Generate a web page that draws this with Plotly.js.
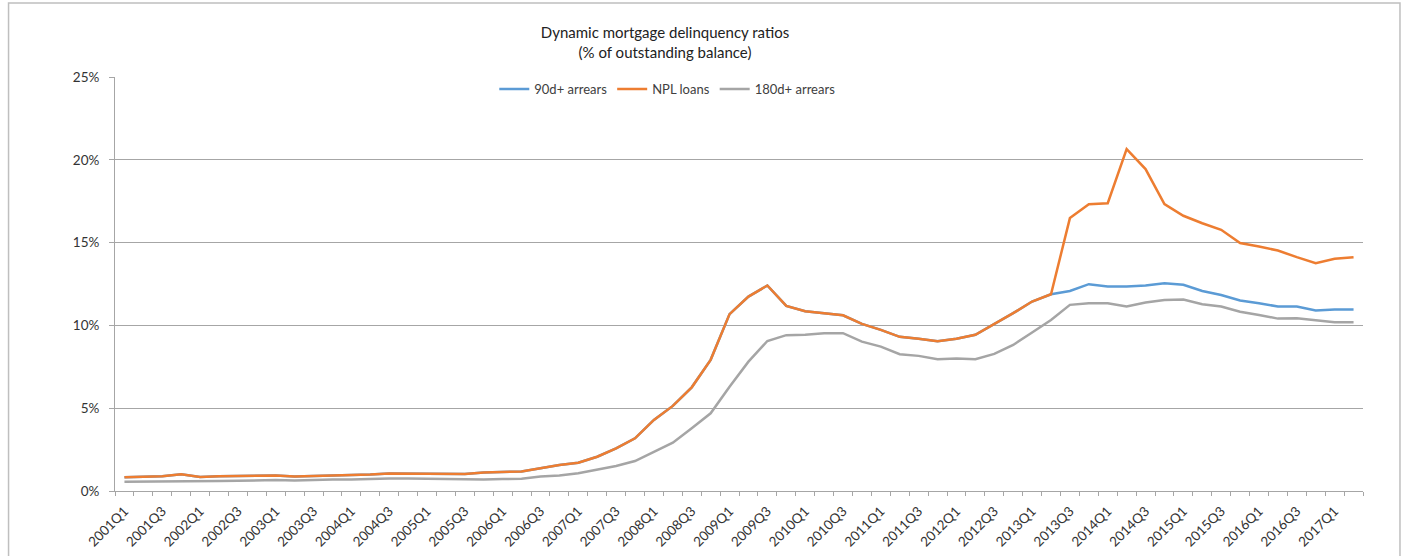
<!DOCTYPE html>
<html>
<head>
<meta charset="utf-8">
<script src="https://cdn.plot.ly/plotly-3.0.1.min.js"></script>
<style>
  html, body { margin: 0; padding: 0; background: #ffffff; }
  #chart { width: 1404px; height: 556px; }
</style>
</head>
<body>
<div id="chart"></div>
<script>
// Quarters 2001Q1 .. 2017Q2
const quarters = [];
for (let y = 2001; y <= 2017; y++) {
  for (let q = 1; q <= 4; q++) {
    if (y === 2017 && q > 2) break;
    quarters.push(y + 'Q' + q);
  }
}

// 90d+ arrears (% of outstanding balance)
const arrears90 = [
  0.83, 0.85, 0.89, 1.01, 0.84, 0.89, 0.91, 0.95, 0.93, 0.88,
  0.91, 0.91, 0.97, 0.99, 1.05, 1.05, 1.03, 1.01, 1.03, 1.12,
  1.14, 1.18, 1.37, 1.57, 1.71, 2.07, 2.58, 3.18, 4.29, 5.14,
  6.26, 7.92, 10.68, 11.74, 12.41, 11.18, 10.86, 10.74, 10.61, 10.09,
  9.73, 9.31, 9.20, 9.04, 9.20, 9.43, 10.08, 10.74, 11.44, 11.88,
  12.08, 12.49, 12.35, 12.35, 12.41, 12.55, 12.45, 12.08, 11.84, 11.50,
  11.34, 11.14, 11.14, 10.90, 10.96, 10.96
];

// NPL loans
const nplLoans = [
  0.83, 0.85, 0.89, 1.01, 0.84, 0.89, 0.91, 0.95, 0.93, 0.88,
  0.91, 0.91, 0.97, 0.99, 1.05, 1.05, 1.03, 1.01, 1.03, 1.12,
  1.14, 1.18, 1.37, 1.57, 1.71, 2.07, 2.58, 3.18, 4.29, 5.14,
  6.26, 7.92, 10.68, 11.74, 12.41, 11.18, 10.86, 10.74, 10.61, 10.09,
  9.73, 9.31, 9.20, 9.04, 9.20, 9.43, 10.08, 10.74, 11.44, 11.88,
  16.48, 17.32, 17.38, 20.65, 19.44, 17.32, 16.62, 16.17, 15.77, 14.97,
  14.76, 14.52, 14.12, 13.76, 14.02, 14.12
];

// 180d+ arrears
const arrears180 = [
  0.56, 0.56, 0.56, 0.58, 0.58, 0.60, 0.62, 0.66, 0.66, 0.64,
  0.68, 0.70, 0.70, 0.74, 0.76, 0.76, 0.74, 0.70, 0.68, 0.70,
  0.72, 0.74, 0.87, 0.93, 1.07, 1.27, 1.51, 1.81, 2.38, 2.92,
  3.79, 4.69, 6.30, 7.81, 9.06, 9.41, 9.43, 9.53, 9.53, 9.02,
  8.72, 8.26, 8.16, 7.96, 8.00, 7.96, 8.28, 8.82, 9.57, 10.33,
  11.24, 11.34, 11.34, 11.14, 11.38, 11.54, 11.56, 11.28, 11.14, 10.83,
  10.63, 10.41, 10.43, 10.29, 10.19, 10.19
];

const seriesNames = ['90d+ arrears', 'NPL loans', '180d+ arrears'];
const seriesColors = ['#5B9BD5', '#ED7D31', '#A5A5A5'];
const yTicks = [0, 5, 10, 15, 20, 25];
const xTickLabels = quarters.filter((q, i) => i % 2 === 0);

const FONT = 'Lato, "Open Sans", sans-serif';
const GRID = '#a6a6a6';

const data = [arrears90, nplLoans, arrears180].map((vals, k) => ({
  type: 'scatter',
  mode: 'lines',
  x: quarters,
  y: vals,
  name: seriesNames[k],
  line: { color: seriesColors[k], width: 2.5 },
  hoverinfo: 'x+y+name'
}));

// Helper invisible trace for the boundary tick-mark axis
data.push({
  type: 'scatter', mode: 'markers', x: [-0.5, quarters.length - 0.5], y: [0, 0],
  xaxis: 'x2', yaxis: 'y', showlegend: false, hoverinfo: 'skip',
  marker: { opacity: 0, size: 1 }
});

const layout = {
  width: 1404,
  height: 556,
  paper_bgcolor: '#ffffff',
  plot_bgcolor: '#ffffff',
  margin: { l: 114.5, r: 41, t: 77, b: 65 },
  font: { family: FONT, color: '#404040', size: 13 },
  title: {
    text: 'Dynamic mortgage delinquency ratios<br>(% of outstanding balance)',
    font: { family: FONT, size: 15, color: '#222222' },
    x: 665 / 1404, xref: 'container', xanchor: 'center',
    y: 1 - 38 / 556, yref: 'container', yanchor: 'middle'
  },
  showlegend: true,
  legend: {
    orientation: 'h',
    x: (667 - 114.5) / 1248.5, xanchor: 'center',
    y: (491 - 89) / 414, yanchor: 'middle',
    font: { family: FONT, size: 13, color: '#404040' },
    bgcolor: 'rgba(0,0,0,0)',
    itemwidth: 30,
    tracegroupgap: 0
  },
  xaxis: {
    type: 'category',
    categoryorder: 'array',
    categoryarray: quarters,
    range: [-0.5, quarters.length - 0.5],
    tickmode: 'array',
    tickvals: xTickLabels,
    ticktext: xTickLabels,
    tickangle: -45,
    ticks: '',
    ticklabelstandoff: 6,
    showgrid: false,
    showline: true,
    linecolor: GRID,
    linewidth: 1,
    tickfont: { family: FONT, size: 13.5, color: '#333333' },
    fixedrange: true
  },
  xaxis2: {
    overlaying: 'x',
    anchor: 'y',
    side: 'bottom',
    range: [-0.5, quarters.length - 0.5],
    tickmode: 'linear',
    tick0: -0.5,
    dtick: 1,
    ticks: 'outside',
    ticklen: 4,
    tickcolor: GRID,
    tickwidth: 1,
    showticklabels: false,
    showgrid: false,
    zeroline: false,
    showline: false,
    fixedrange: true
  },
  yaxis: {
    range: [0, 25],
    tickmode: 'array',
    tickvals: yTicks,
    ticktext: yTicks.map(v => v + '%'),
    ticks: 'outside',
    ticklen: 5,
    tickcolor: GRID,
    ticklabelstandoff: 7,
    showgrid: true,
    gridcolor: GRID,
    gridwidth: 1,
    zeroline: false,
    showline: true,
    linecolor: GRID,
    linewidth: 1,
    tickfont: { family: FONT, size: 13.5, color: '#333333' },
    fixedrange: true
  },
  shapes: [{
    type: 'rect', xref: 'paper', yref: 'paper',
    x0: (8 - 114.5) / 1248.5, x1: (1400 - 114.5) / 1248.5,
    y0: (491 - 560) / 414, y1: (491 - 3) / 414,
    line: { color: '#bfbfbf', width: 1.5 },
    fillcolor: 'rgba(0,0,0,0)',
    layer: 'below'
  }]
};

Plotly.newPlot('chart', data, layout, { displayModeBar: false, staticPlot: true });
</script>
</body>
</html>
